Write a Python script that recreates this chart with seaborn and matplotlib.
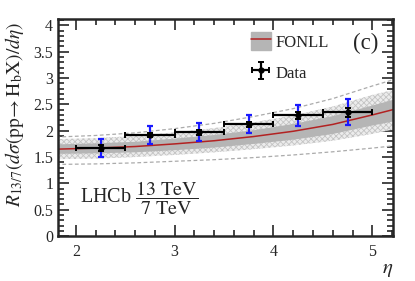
import numpy as np
import seaborn as sns
import pandas as pd
import matplotlib.pyplot as plt
from matplotlib.patches import Patch
from matplotlib.lines import Line2D
from matplotlib.ticker import MultipleLocator

# FONLL prediction on an eta grid
eta_grid = [1.8, 2.2, 2.6, 3.0, 3.4, 3.8, 4.2, 4.6, 5.0, 5.25]
fonll_central = [1.65, 1.67, 1.70, 1.75, 1.81, 1.89, 1.99, 2.12, 2.30, 2.42]
fonll_lo = [1.57, 1.58, 1.60, 1.64, 1.69, 1.76, 1.84, 1.95, 2.11, 2.20]
fonll_hi = [1.75, 1.77, 1.80, 1.86, 1.93, 2.02, 2.14, 2.29, 2.49, 2.62]
hatch_lo = [1.46, 1.47, 1.50, 1.54, 1.59, 1.65, 1.72, 1.81, 1.94, 2.04]
hatch_hi = [1.84, 1.86, 1.90, 1.97, 2.05, 2.16, 2.29, 2.46, 2.68, 2.79]
dash_lo = [1.36, 1.37, 1.39, 1.42, 1.45, 1.49, 1.54, 1.60, 1.67, 1.72]
dash_hi = [1.88, 1.91, 1.96, 2.04, 2.14, 2.27, 2.42, 2.61, 2.85, 2.99]

# measured ratio
eta = [2.25, 2.75, 3.25, 3.75, 4.25, 4.75]
eta_halfwidth = [0.25, 0.25, 0.25, 0.25, 0.25, 0.25]
ratio = [1.67, 1.92, 1.97, 2.12, 2.29, 2.35]
stat_err = [0.06, 0.04, 0.05, 0.05, 0.07, 0.09]
tot_err = [0.17, 0.17, 0.17, 0.17, 0.20, 0.25]

sns.set_style('ticks')
plt.rcParams['font.family'] = ['Liberation Serif', 'DejaVu Serif']
plt.rcParams['mathtext.fontset'] = 'stix'
plt.rcParams['hatch.linewidth'] = 0.6

fig = plt.figure(figsize=(4.15, 2.81), dpi=100)
ax = fig.add_axes([0.140, 0.160, 0.807, 0.772])

df = pd.DataFrame({'eta': eta_grid, 'r': fonll_central})

ax.fill_between(eta_grid, hatch_lo, hatch_hi, facecolor='#ececec',
                edgecolor='#c4c4c4', hatch='xxxxxx', linewidth=0)
ax.fill_between(eta_grid, fonll_lo, fonll_hi, color='#b5b5b5', linewidth=0)
ax.plot(eta_grid, dash_lo, color='#ababab', ls=(0, (3, 2)), lw=0.9)
ax.plot(eta_grid, dash_hi, color='#ababab', ls=(0, (3, 2)), lw=0.9)
sns.lineplot(data=df, x='eta', y='r', color='#b22222', lw=1.1, ax=ax)

ax.errorbar(eta, ratio, yerr=tot_err, fmt='none', ecolor='#1a1aff',
            elinewidth=1.6, capsize=2.5, capthick=1.6, zorder=5)
data_h = ax.errorbar(eta, ratio, xerr=eta_halfwidth, yerr=stat_err, fmt='o',
                     color='black', ms=3.5, elinewidth=1.6, capsize=2.5,
                     capthick=1.4, zorder=6)

ax.set_xlim(1.82, 5.21)
ax.set_ylim(0, 4.12)
ax.xaxis.set_major_locator(MultipleLocator(1))
ax.xaxis.set_minor_locator(MultipleLocator(0.2))
ax.yaxis.set_major_locator(MultipleLocator(0.5))
ax.yaxis.set_minor_locator(MultipleLocator(0.1))
ax.yaxis.set_major_formatter(plt.FuncFormatter(lambda v, p: f'{v:g}'))
ax.tick_params(which='both', direction='in', top=True, right=True,
               width=1.2, labelsize=11.5)
ax.tick_params(which='major', length=8)
ax.tick_params(which='minor', length=4)
ax.tick_params(axis='x', which='major', pad=6)
for s in ax.spines.values():
    s.set_linewidth(1.8)

ax.set_xlabel(r'$\eta$', fontsize=15, loc='right', labelpad=0)
ax.set_ylabel(r'$R_{13/7}(d\sigma(\mathrm{pp}\!\rightarrow\mathrm{H_bX})/d\eta)$',
              fontsize=14)
ax.yaxis.set_label_coords(-0.097, 0.56)

ax.text(2.04, 0.72, r'LHCb $\dfrac{13\ \mathrm{TeV}}{7\ \mathrm{TeV}}$',
        fontsize=14.5, va='center')
ax.text(4.80, 3.65, '(c)', fontsize=16.5, va='center')

fonll_h = (Patch(color='#b5b5b5'), Line2D([], [], color='#b22222', lw=1.1))
ax.legend([fonll_h, data_h], ['FONLL', 'Data'], loc='upper left',
          bbox_to_anchor=(0.53, 1.01), frameon=False, fontsize=12,
          handlelength=1.2, handleheight=1.3, labelspacing=0.75,
          handletextpad=0.3)

fig.savefig('out.png', dpi=100)
